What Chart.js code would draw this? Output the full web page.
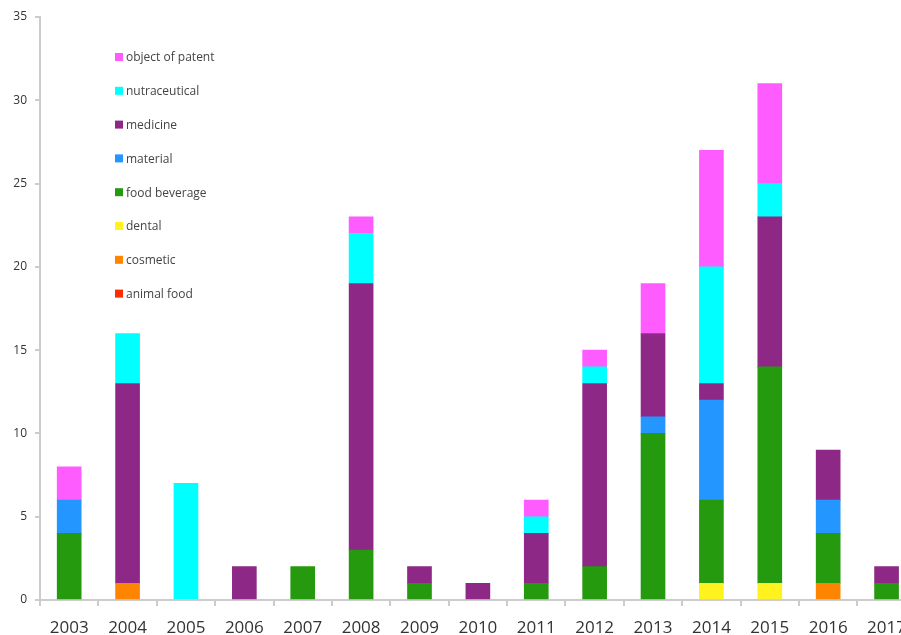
<!DOCTYPE html>
<html>
<head>
<meta charset="utf-8">
<script src="https://cdn.jsdelivr.net/npm/chart.js@4"></script>
<style>
  html, body { margin: 0; padding: 0; background: #fff; overflow: hidden; }
  #wrap { width: 918px; height: 635px; position: relative; }
</style>
</head>
<body>
<div id="wrap"><canvas id="myChart"></canvas></div>
<script>
// years on the x axis
const years = ['2003', '2004', '2005', '2006', '2007', '2008', '2009', '2010',
               '2011', '2012', '2013', '2014', '2015', '2016', '2017'];

// counts per category, stacked bottom to top
const animalFood    = [0, 0, 0, 0, 0, 0, 0, 0, 0, 0, 0, 0, 0, 0, 0];
const cosmetic      = [0, 1, 0, 0, 0, 0, 0, 0, 0, 0, 0, 0, 0, 1, 0];
const dental        = [0, 0, 0, 0, 0, 0, 0, 0, 0, 0, 0, 1, 1, 0, 0];
const foodBeverage  = [4, 0, 0, 0, 2, 3, 1, 0, 1, 2, 10, 5, 13, 3, 1];
const material      = [2, 0, 0, 0, 0, 0, 0, 0, 0, 0, 1, 6, 0, 2, 0];
const medicine      = [0, 12, 0, 2, 0, 16, 1, 1, 3, 11, 5, 1, 9, 3, 1];
const nutraceutical = [0, 3, 7, 0, 0, 3, 0, 0, 1, 1, 0, 7, 2, 0, 0];
const objectPatent  = [2, 0, 0, 0, 0, 1, 0, 0, 1, 1, 3, 7, 6, 0, 0];

const yTicks = [0, 5, 10, 15, 20, 25, 30, 35];

document.addEventListener('DOMContentLoaded', function() {
    renderChart();
});

// legend drawn inside the plot, top series first
const innerLegend = {
    id: 'innerLegend',
    afterDraw(chart) {
        const ctx = chart.ctx;
        const sets = chart.data.datasets.slice().reverse();
        ctx.save();
        ctx.font = '12px "Open Sans"';
        ctx.textBaseline = 'middle';
        sets.forEach(function(ds, i) {
            const y = 58 + i * 33.8;
            ctx.fillStyle = ds.backgroundColor;
            ctx.fillRect(115, y - 5, 8, 8);
            ctx.fillStyle = '#444';
            ctx.fillText(ds.label, 126, y);
        });
        ctx.restore();
    }
};

function renderChart() {
    const ctx = document.getElementById('myChart').getContext('2d');
    const series = [
        ['animal food', animalFood, '#ff2a00'],
        ['cosmetic', cosmetic, '#ff8500'],
        ['dental', dental, '#fff21e'],
        ['food beverage', foodBeverage, '#259a0e'],
        ['material', material, '#2496ff'],
        ['medicine', medicine, '#8d2886'],
        ['nutraceutical', nutraceutical, '#00ffff'],
        ['object of patent', objectPatent, '#ff5cff']
    ];
    const myChart = new Chart(ctx, {
        type: 'bar',
        data: {
            labels: years,
            datasets: series.map(function(s) {
                return {
                    label: s[0],
                    // empty segments are left out so they draw nothing
                    data: s[1].map(function(v) { return v === 0 ? null : v; }),
                    backgroundColor: s[2],
                    borderWidth: 0,
                    barThickness: 24
                };
            })
        },
        plugins: [innerLegend],
        options: {
            responsive: true,
            maintainAspectRatio: false,
            animation: false,
            layout: { padding: { top: 17, left: 0, right: 0, bottom: 0 } },
            plugins: {
                legend: { display: false },
                tooltip: { enabled: false }
            },
            scales: {
                x: {
                    stacked: true,
                    afterFit: function(s) { s.height = 35; },
                    grid: {
                        offset: true,
                        drawOnChartArea: false,
                        drawTicks: true,
                        tickLength: 6,
                        color: '#cccccc',
                        lineWidth: 2
                    },
                    border: { color: '#cccccc', width: 2 },
                    ticks: {
                        color: '#333',
                        padding: 12,
                        maxRotation: 0,
                        autoSkip: false,
                        font: { family: 'Open Sans', size: 17 }
                    }
                },
                y: {
                    stacked: true,
                    min: 0,
                    max: 35,
                    afterFit: function(s) { s.width = 40; },
                    afterBuildTicks: function(s) {
                        s.ticks = yTicks.map(function(v) { return { value: v }; });
                    },
                    grid: {
                        drawOnChartArea: false,
                        drawTicks: true,
                        tickLength: 5,
                        color: '#cccccc',
                        lineWidth: 2
                    },
                    border: { color: '#cccccc', width: 2 },
                    ticks: {
                        color: '#333',
                        padding: 8,
                        font: { family: 'Open Sans', size: 12 }
                    }
                }
            }
        }
    });
}
</script>
</body>
</html>
